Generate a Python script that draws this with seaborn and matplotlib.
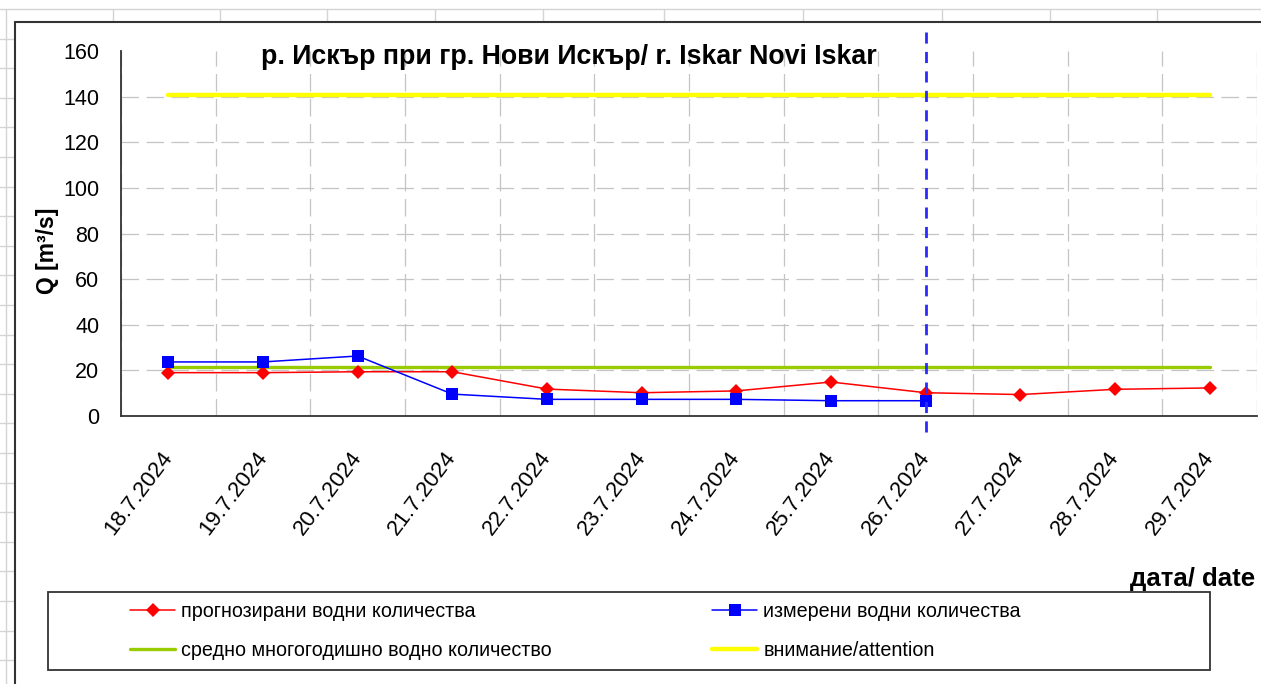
import numpy as np
import pandas as pd
import matplotlib
matplotlib.use("Agg")
import matplotlib.pyplot as plt
import seaborn as sns
from matplotlib.lines import Line2D
from matplotlib.patches import Rectangle

# values
dates = ["18.7.2024", "19.7.2024", "20.7.2024", "21.7.2024", "22.7.2024", "23.7.2024",
         "24.7.2024", "25.7.2024", "26.7.2024", "27.7.2024", "28.7.2024", "29.7.2024"]
forecast = [19.0, 19.0, 19.4, 19.4, 11.8, 10.2, 11.0, 14.9, 10.2, 9.4, 11.7, 12.3]
measured = [23.7, 23.7, 26.3, 9.6, 7.3, 7.3, 7.3, 6.7, 6.7]
mean_q = [21.5] * 12
attention = [140.5] * 12
today_idx = 8  # 26.7.2024

lbl_forecast = "прогнозирани водни количества"
lbl_measured = "измерени водни количества"
lbl_mean = "средно многогодишно водно количество"
lbl_attention = "внимание/attention"

sns.set_style("white")
plt.rcParams["font.family"] = ["Liberation Sans", "DejaVu Sans"]
plt.rcParams["text.color"] = "black"
plt.rcParams["xtick.color"] = "black"
plt.rcParams["ytick.color"] = "black"

W, H = 1261, 684
def fx(x):
    return x / W
def fy(y):
    return 1 - y / H

fig = plt.figure(figsize=(W / 100, H / 100), dpi=100)

# spreadsheet cell lines behind the chart
cell = "#d4d4d4"
fig.add_artist(Line2D([0, 1], [fy(9), fy(9)], color=cell, lw=1))
fig.add_artist(Line2D([fx(6), fx(6)], [fy(9), 0], color=cell, lw=1))
for cx in [113, 220, 327, 435, 543, 664, 803, 942, 1050, 1157]:
    fig.add_artist(Line2D([fx(cx), fx(cx)], [fy(9), fy(21)], color=cell, lw=1))
for ry in np.arange(38.6, H, 29.6):
    fig.add_artist(Line2D([0, fx(15)], [fy(ry), fy(ry)], color=cell, lw=1))
# chart area border
fig.add_artist(Line2D([fx(15), 1], [fy(21.5), fy(21.5)], color="#333333", lw=1.5))
fig.add_artist(Line2D([fx(15), fx(15)], [fy(21.5), 0], color="#333333", lw=1.5))

ax = fig.add_axes([fx(121), fy(416), (1257 - 121) / W, (416 - 51) / H])

idx = np.arange(len(dates))
df = pd.DataFrame({"idx": idx, "forecast": forecast, "mean": mean_q, "attention": attention})
dm = pd.DataFrame({"idx": idx[:len(measured)], "measured": measured})

sns.lineplot(data=df, x="idx", y="attention", ax=ax, color="#ffff00", lw=3.2, zorder=2)
sns.lineplot(data=df, x="idx", y="mean", ax=ax, color="#99cc00", lw=2.4, zorder=2)
sns.lineplot(data=df, x="idx", y="forecast", ax=ax, color="#ff0000", lw=1.1,
             marker="D", markersize=7.5, markeredgewidth=0, zorder=3)
sns.lineplot(data=dm, x="idx", y="measured", ax=ax, color="#0000ff", lw=1.1,
             marker="s", markersize=8, markeredgewidth=0, zorder=4)
ax.axvline(today_idx, ymin=-0.044, ymax=1.058, color="#2a2aff", lw=2,
           linestyle=(0, (4, 3)), clip_on=False, zorder=5)

ax.set_xlim(-0.5, len(dates) - 0.5)
ax.set_ylim(0, 160)
ax.set_yticks(range(0, 161, 20))
ax.set_xticks(np.arange(-0.5, len(dates)), [""] * (len(dates) + 1))
ax.set_xticks(idx, dates, minor=True)
ax.set_xlabel("")
ax.set_ylabel("")

for s in ["top", "right"]:
    ax.spines[s].set_visible(False)
for s in ["left", "bottom"]:
    ax.spines[s].set_color("#333333")
    ax.spines[s].set_linewidth(1.3)

ax.tick_params(axis="both", which="major", direction="out", length=5.5, width=1.2,
               color="#333333", labelsize=15.5, pad=10)
ax.tick_params(axis="x", which="minor", length=0, labelsize=16, pad=27)
for lab in ax.get_xticklabels(minor=True):
    lab.set_rotation(53)
    lab.set_ha("right")
    lab.set_va("center")
    lab.set_rotation_mode("anchor")

ax.grid(True, which="major", color="#c4c4c4", lw=0.9, linestyle=(0, (14, 6)))
ax.yaxis.get_gridlines()[-1].set_visible(False)
ax.set_axisbelow(True)

if ax.get_legend() is not None:
    ax.get_legend().remove()

fig.text(fx(569), fy(57), "р. Искър при гр. Нови Искър/ r. Iskar Novi Iskar",
         ha="center", va="center", fontsize=19.3, fontweight="bold")
fig.text(fx(48), fy(251), "Q [m³/s]", rotation=90, ha="center", va="center",
         fontsize=16.5, fontweight="bold")
fig.text(fx(1255), fy(579), "дата/ date", ha="right", va="center",
         fontsize=18.5, fontweight="bold")

# legend
fig.add_artist(Rectangle((fx(48), fy(670)), (1210 - 48) / W, (670 - 592) / H,
                         transform=fig.transFigure, fill=False, edgecolor="#333333", lw=1.3))
h_fc = Line2D([], [], color="#ff0000", lw=1.1, marker="D", markersize=7.5, markeredgewidth=0)
h_ms = Line2D([], [], color="#0000ff", lw=1.1, marker="s", markersize=8, markeredgewidth=0)
h_mn = Line2D([], [], color="#99cc00", lw=2.4)
h_at = Line2D([], [], color="#ffff00", lw=3.2)
leg_kw = dict(loc="center left", frameon=False, fontsize=14.2, borderpad=0,
              borderaxespad=0, handlelength=2.3, handletextpad=0.3, labelspacing=1.0)
fig.legend([h_fc, h_mn], [lbl_forecast, lbl_mean], bbox_to_anchor=(fx(130), fy(631)), **leg_kw)
fig.legend([h_ms, h_at], [lbl_measured, lbl_attention], bbox_to_anchor=(fx(712), fy(631)), **leg_kw)

fig.savefig("out.png", dpi=100)
